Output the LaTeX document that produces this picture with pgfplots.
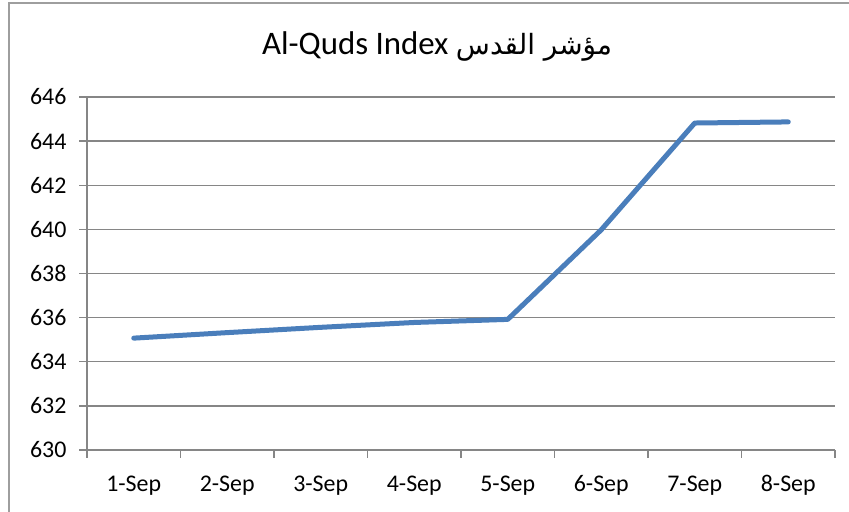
\documentclass[border=0pt]{standalone}
\usepackage{pgfplots}
\pgfplotsset{compat=1.18}
\usepackage{fontspec}
\setmainfont{Carlito}
\newfontfamily\arabicfont[Script=Arabic]{DejaVu Sans}
\TeXXeTstate=1
\definecolor{linecol}{HTML}{4A7EBB}
\definecolor{gridcol}{HTML}{868686}
\begin{document}
\begin{tikzpicture}[x=1bp,y=1bp]
\useasboundingbox (0,0) rectangle (849,512);
\fill[white] (0,0) rectangle (849,512);
\draw[gridcol!80, line width=1.5bp] (9,0) -- (9,509) -- (849,509);
\node[font=\fontsize{33}{38}\selectfont, anchor=center] at (437,465) {Al-Quds Index {\arabicfont\fontsize{28}{34}\selectfont\beginR مؤشر القدس\endR}};
\begin{axis}[
  at={(87bp,62bp)}, anchor=south west,
  scale only axis, width=748bp, height=353bp,
  xmin=0.5, xmax=8.5, ymin=630, ymax=646,
  xtick={1,...,8},
  xticklabels={1-Sep,2-Sep,3-Sep,4-Sep,5-Sep,6-Sep,7-Sep,8-Sep},
  minor xtick={0.5,1.5,...,8.5},
  ytick={630,632,...,646},
  axis lines*=left,
  axis line style={gridcol, line width=1.3bp},
  ymajorgrids, grid style={gridcol, line width=1.3bp},
  tick align=outside,
  major tick length=8bp, minor tick length=8bp,
  xtick style={draw=none},
  minor x tick style={draw=gridcol, line width=1.3bp},
  ytick style={gridcol, line width=1.3bp},
  tick label style={font=\fontsize{24}{28}\selectfont},
  /pgf/number format/assume math mode=true,
  /pgf/number format/1000 sep={},
  yticklabel style={xshift=-9bp},
  xticklabel style={yshift=-23bp, text height=0.7em, text depth=0.22em},
  clip=false,
]
\addplot[linecol, line width=5bp, line join=round, line cap=round] coordinates {
 (1,635.07) (2,635.32) (3,635.56) (4,635.78) (5,635.92) (6,639.98) (7,644.82) (8,644.87)
};
\end{axis}
\end{tikzpicture}
\end{document}
